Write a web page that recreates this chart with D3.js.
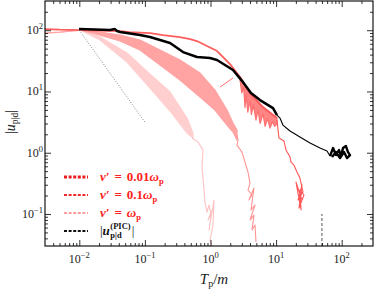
<!DOCTYPE html>
<html><head><meta charset="utf-8">
<script src="https://cdn.jsdelivr.net/npm/d3@7"></script>
<style>body{margin:0;background:#fff}svg{display:block}text{font-family:"Liberation Serif","DejaVu Serif",serif}</style>
</head><body><svg id="c" width="374" height="289"></svg>
<script>
// ---------- data ----------
const xMajor=[0.01,0.1,1,10,100];
const yMajor=[0.1,1,10,100];
const xTickExp=["−2","−1","0","1","2"];
const yTickExp=["−1","0","1","2"];

// nu' = 0.01 wp : main curve
const aT=[0.003,0.0051,0.0103,0.042,0.059,0.12,0.19,0.34,0.49,0.62,1.26,1.98,2.82,4.0,6.3,10.3];
const aU=[104.5,102,100.7,96.9,93.4,89.9,83.4,77.3,71.7,66.6,45.7,28.0,17.2,9.42,5.57,3.68];
// its noisy band (spiky lower edge)
const aBandT=[2.82,3.0,3.2,3.36,3.5,3.7,4.0,4.2,4.5,4.94,5.3,5.7,6.31,6.8,7.4,8.07,8.8,9.5,10.3];
const aBandHi=[17.2,15.0,13.4,12.7,11.6,10.5,9.42,8.7,7.9,7.24,6.7,6.1,5.57,5.1,4.8,4.44,4.1,3.9,3.68];
const aBandLo=[15.4,9.5,11.8,5.5,9.0,4.6,7.0,4.2,6.0,3.41,5.0,3.0,4.3,2.7,3.6,2.53,3.2,2.7,2.96];
const aSpikeT=[1.40,2.2], aSpikeU=[11.8,16.6];
// its tail
const aTailT=[10.3,11.07,13.2,14.16,16.3,16.9,18.7,20.8,23.1,25.7,21.6,24.8,22.3,26.6,23.1,24.0,20.1,24.8];
const aTailU=[3.41,1.74,1.55,1.105,0.85,0.704,0.629,0.483,0.386,0.228,0.169,0.296,0.125,0.204,0.246,0.116,0.332,0.169];

// nu' = 0.1 wp
const bBandT=[0.003,0.0051,0.0103,0.0207,0.0417,0.0841,0.170,0.343,0.692,1.171,1.784,2.203,2.535];
const bBandHi=[89.9,93.4,100.7,93.4,83.4,69.1,47.5,32.6,20.0,10.5,4.97,3.05,2.34];
const bBandLo=[89.9,93.4,100.7,83.4,66.6,47.5,27.0,15.4,8.11,4.97,2.83,2.18,1.61];
const bTailT=[2.535,2.626,2.535,3.02,3.357,3.73,4.0,3.73,4.29,3.86,4.6,4.14,4.77,4.0,4.6,4.29,4.77,4.94];
const bTailU=[1.94,1.61,1.33,1.025,0.704,0.483,0.32,0.246,0.204,0.169,0.265,0.116,0.14,0.0796,0.096,0.0546,0.0659,0.0348];

// nu' = wp
const cBandT=[0.003,0.0051,0.0103,0.0207,0.0533,0.1196,0.2415,0.4385,0.541];
const cBandHi=[89.9,93.4,100.7,77.3,42.4,19.2,9.78,3.68,2.09];
const cBandLo=[89.9,93.4,100.7,69.1,30.2,11.4,4.8,2.09,1.74];
const cTailT=[0.5225,0.645,0.769,0.742,0.769,0.8245,0.8845,0.949,1.018,0.916,1.054,0.949,1.13,1.092,0.983,1.054];
const cTailU=[1.74,1.49,1.105,0.562,0.386,0.156,0.107,0.14,0.096,0.0796,0.116,0.0546,0.169,0.0659,0.0375,0.030];

// PIC
const pT=[0.0099,0.0174,0.0294,0.0349,0.0376,0.0417,0.0841,0.1196,0.170,0.2415,0.381,0.622,0.983,1.256,2.203,3.13,4.14,5.68,8.97,10.3];
const pU=[104.5,102.6,100.7,104.5,96.9,93.4,83.4,77.3,69.1,61.7,44.0,36.5,35.1,32.6,22.4,14.2,9.42,7.24,5.36,4.12];
const pThinT=[10.3,11.46,12.7,16.3,23.1,32.9,46.7,59.7,66.3];
const pThinU=[4.12,3.68,2.83,2.26,1.80,1.44,1.19,1.065,0.882];
const pClumpT=[66.3,73.7,81.9,91,97.6,104.7,116,124.7,134,120.4,108.4,94.2,81.9,71.2];
const pClumpU=[0.882,1.19,0.916,1.105,0.882,1.19,1.285,1.025,0.916,0.818,1.025,0.818,1.025,0.85];

// guide lines
const slopeT=[0.01,0.1], slopeU=[100,3.16];
const vlineT=[50,50], vlineU=[0.03,0.1];

const legendLabels=["0.01","0.1",""];

// ---------- drawing ----------
const L=45,R=373,Tp=1,B=246;
const x=d3.scaleLog().domain([0.003,300]).range([L,R]);
const y=d3.scaleLog().domain([0.03,300]).range([B,Tp]);
const svg=d3.select("#c");
const g=svg.append("g");
g.append("clipPath").attr("id","clip").append("rect").attr("x",L).attr("y",Tp).attr("width",R-L).attr("height",B-Tp);
const plot=g.append("g").attr("clip-path","url(#clip)");

const zip=(a,b)=>a.map((v,i)=>[v,b[i]]);
const zip3=(a,b,c)=>a.map((v,i)=>[v,b[i],c[i]]);
const line=d3.line().x(d=>x(d[0])).y(d=>y(d[1]));
const area=d3.area().x(d=>x(d[0])).y0(d=>y(d[1])).y1(d=>y(d[2]));

function band(T,lo,hi,col,op){
  plot.append("path").datum(zip3(T,lo,hi)).attr("d",area).attr("fill",col).attr("fill-opacity",op||1).attr("stroke",col).attr("stroke-width",1.2).attr("stroke-linejoin","round");
}
function path(T,U,col,w,extra){
  const p=plot.append("path").datum(zip(T,U)).attr("d",line).attr("fill","none").attr("stroke",col).attr("stroke-width",w).attr("stroke-linejoin","round");
  if(extra)extra(p);
}

band(cBandT,cBandLo,cBandHi,"#ffcfcf");
path(cTailT,cTailU,"#ffc2c2",1.1);
band(bBandT,bBandLo,bBandHi,"#ffa3a3");
path(bTailT,bTailU,"#ff9494",1.1);
band(aBandT,aBandLo,aBandHi,"#ff7070",0.85);
path(aSpikeT,aSpikeU,"#ff6a6a",1);
path(aT,aU,"#ff5c5c",1.8);
path(aTailT,aTailU,"#ff5858",1.1);
path(slopeT,slopeU,"#888",1,p=>p.attr("stroke-dasharray","1,1.6"));
path(vlineT,vlineU,"#555",1,p=>p.attr("stroke-dasharray","3,2"));
path(pT,pU,"#000",2.5);
path(pThinT,pThinU,"#000",1.1);
path(pClumpT,pClumpU,"#000",2.4);

// ---------- axes ----------
function minors(d){const o=[];for(let e=-3;e<=3;e++)for(let k=2;k<10;k++){const v=k*Math.pow(10,e);if(v>d[0]&&v<d[1])o.push(v);}return o;}
const xMin=minors(x.domain()), yMin=minors(y.domain());
function ax(axisFn,scale,vals,size,tr){
  g.append("g").attr("transform",tr).call(axisFn(scale).tickValues(vals).tickSizeInner(size).tickSizeOuter(0).tickFormat(()=>""))
   .call(s=>{s.select(".domain").remove();s.selectAll("line").attr("stroke","#000").attr("stroke-width",0.8);});
}
ax(d3.axisBottom,x,xMajor,-6,`translate(0,${B})`);
ax(d3.axisBottom,x,xMin,-3,`translate(0,${B})`);
ax(d3.axisTop,x,xMajor,-6,`translate(0,${Tp})`);
ax(d3.axisTop,x,xMin,-3,`translate(0,${Tp})`);
ax(d3.axisLeft,y,yMajor,-6,`translate(${L},0)`);
ax(d3.axisLeft,y,yMin,-3,`translate(${L},0)`);
ax(d3.axisRight,y,yMajor,-6,`translate(${R},0)`);
ax(d3.axisRight,y,yMin,-3,`translate(${R},0)`);
g.append("rect").attr("x",L).attr("y",Tp).attr("width",R-L).attr("height",B-Tp).attr("fill","none").attr("stroke","#000").attr("stroke-width",1.1);

xMajor.forEach((v,i)=>{
  const t=g.append("text").attr("x",x(v)).attr("y",263).attr("text-anchor","middle").attr("font-size",12).attr("fill","#222");
  t.append("tspan").text("10");
  t.append("tspan").attr("dy",-5).attr("font-size",8.5).text(xTickExp[i]);
});
yMajor.forEach((v,i)=>{
  const t=g.append("text").attr("x",43).attr("y",y(v)+4).attr("text-anchor","end").attr("font-size",12).attr("fill","#222");
  t.append("tspan").text("10");
  t.append("tspan").attr("dy",-5).attr("font-size",8.5).text(yTickExp[i]);
});

// axis titles
const xt=g.append("text").attr("x",214).attr("y",284).attr("text-anchor","middle").attr("font-size",15).attr("fill","#222");
xt.append("tspan").attr("font-style","italic").text("T");
xt.append("tspan").attr("dy",3).attr("font-size",10).text("p");
xt.append("tspan").attr("dy",-3).text("/");
xt.append("tspan").attr("font-style","italic").text("m");
const yt=g.append("text").attr("transform","translate(15,122) rotate(-90)").attr("text-anchor","middle").attr("font-size",14).attr("fill","#222");
yt.append("tspan").text("|");
yt.append("tspan").attr("font-style","italic").text("u");
yt.append("tspan").attr("dy",3).attr("font-size",9.5).text("p|d");
yt.append("tspan").attr("dy",-3).text("|");

// ---------- legend ----------
const legY=[177,195,213,231];
const legCol=["#e81e1e","#f42a2a","#ff3c3c","#111"];
const legW=[2.8,2,1,2];
legY.forEach((yy,i)=>{
  g.append("line").attr("x1",64).attr("x2",88).attr("y1",yy).attr("y2",yy).attr("stroke",legCol[i]).attr("stroke-width",legW[i]).attr("stroke-dasharray","3,1.6");
});
for(let i=0;i<3;i++){
  const t=g.append("text").attr("x",100).attr("y",legY[i]+4).attr("font-size",13).attr("font-weight","bold").attr("fill","#ff2020");
  t.append("tspan").attr("font-style","italic").text("ν′");
  t.append("tspan").attr("dx",5).text("=");
  if(legendLabels[i]) t.append("tspan").attr("dx",5).text(legendLabels[i]);
  t.append("tspan").attr("dx",legendLabels[i]?0:5).attr("font-style","italic").text("ω");
  t.append("tspan").attr("dy",3).attr("font-size",8.5).text("p");
}
{
  const x0=100, yy=legY[3]+4;
  const t=g.append("text").attr("x",x0).attr("y",yy).attr("font-size",13).attr("fill","#111");
  t.append("tspan").text("|");
  t.append("tspan").attr("font-style","italic").attr("font-weight","bold").text("u");
  const w0=t.node().getComputedTextLength();
  const sub=t.append("tspan").attr("x",x0+w0+0.5).attr("y",yy+3).attr("font-size",8.5).attr("font-weight","bold").text("p|d");
  const ws=sub.node().getComputedTextLength();
  const sup=t.append("tspan").attr("x",x0+w0+0.5).attr("y",yy-6).attr("font-size",8.5).attr("font-weight","bold").text("(PIC)");
  const wp=sup.node().getComputedTextLength();
  t.append("tspan").attr("x",x0+w0+1.5+Math.max(ws,wp)).attr("y",yy).text("|");
}
</script></body></html>
